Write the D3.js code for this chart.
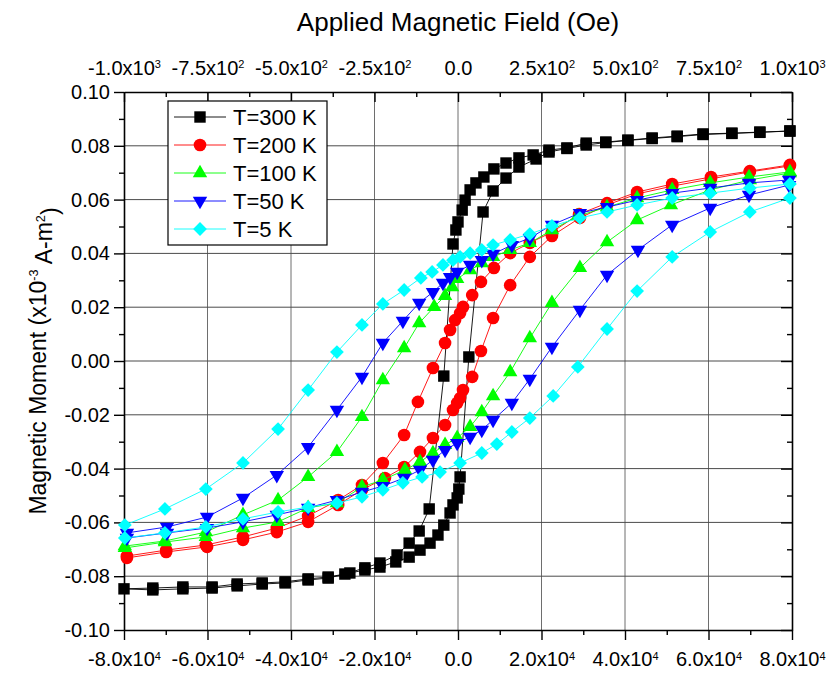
<!DOCTYPE html>
<html>
<head>
<meta charset="utf-8">
<title>Hysteresis loops</title>
<script src="https://d3js.org/d3.v7.min.js"></script>
<style>
  body { margin: 0; background: #fff; }
  svg text { font-family: "Liberation Sans", Arial, sans-serif; fill: #000; }
</style>
</head>
<body>
<svg width="828" height="673"></svg>
<script>
// [field (Oe), moment (x10^-3 A-m^2)] - field swept down from +8e4, then back up
const loop300 = [
  [79500,0.0855],[72300,0.0851],[65600,0.0847],[58700,0.0844],[52500,0.0836],[46500,0.0829],[40700,0.0821],[35400,0.0814],
  [30700,0.0810],[26100,0.0792],[21800,0.0784],[18000,0.0766],[14600,0.0755],[11500,0.0736],[8600,0.0714],[6200,0.0684],
  [4300,0.0662],[2900,0.0636],[1700,0.0598],[1000,0.0561],[0,0.0517],[-500,0.0487],[-1200,0.0435],[-3400,-0.0056],
  [-6900,-0.0550],[-9300,-0.0632],[-11700,-0.0677],[-14600,-0.0721],[-18700,-0.0751],[-22300,-0.0769],[-27100,-0.0792],
  [-31100,-0.0803],[-35900,-0.0810],[-41400,-0.0821],[-46900,-0.0825],[-52900,-0.0829],[-58900,-0.0840],[-65900,-0.0840],
  [-73100,-0.0844],[-80000,-0.0847],
  [-73100,-0.0851],[-65900,-0.0847],[-58900,-0.0844],[-52900,-0.0836],[-46900,-0.0829],[-41400,-0.0825],[-35900,-0.0814],
  [-31100,-0.0807],[-25900,-0.0788],[-22300,-0.0777],[-18700,-0.0766],[-14900,-0.0747],[-11700,-0.0729],[-9100,-0.0703],
  [-6700,-0.0677],[-4800,-0.0647],[-3400,-0.0610],[-1900,-0.0565],[-1200,-0.0535],[-200,-0.0509],[200,-0.0476],[500,-0.0431],
  [2600,0.0015],[6000,0.0554],[8400,0.0632],[11500,0.0680],[14600,0.0721],[18700,0.0751],[21800,0.0777],[26100,0.0790],
  [30700,0.0803],[35400,0.0812],[40700,0.0820],[46500,0.0827],[52500,0.0834],[58700,0.0842],[65600,0.0846],[72300,0.0850],
  [79500,0.0855]
];
const loop200 = [
  [79500,0.0729],[69900,0.0706],[60600,0.0684],[51300,0.0658],[42900,0.0628],[35700,0.0587],[29000,0.0546],[22500,0.0479],
  [17200,0.0439],[12500,0.0401],[8600,0.0346],[5500,0.0294],[3400,0.0245],[1200,0.0201],[500,0.0178],[-700,0.0152],
  [-1900,0.0115],[-3100,0.0067],[-6000,-0.0026],[-9600,-0.0152],[-12900,-0.0275],[-18000,-0.0379],[-23000,-0.0461],
  [-28700,-0.0517],[-35900,-0.0576],[-43400,-0.0621],[-51500,-0.0654],[-60400,-0.0684],[-69900,-0.0703],[-79300,-0.0725],
  [-79300,-0.0732],[-69900,-0.0710],[-60100,-0.0691],[-51500,-0.0665],[-43400,-0.0636],[-35900,-0.0598],[-28700,-0.0535],
  [-23000,-0.0479],[-17500,-0.0435],[-12900,-0.0394],[-9100,-0.0338],[-6000,-0.0286],[-3100,-0.0238],[-1200,-0.0182],
  [-200,-0.0156],[500,-0.0138],[1200,-0.0108],[3400,-0.0059],[5500,0.0037],[8400,0.0160],[12500,0.0282],[17200,0.0387],
  [22500,0.0465],[29200,0.0532],[35700,0.0580],[42900,0.0621],[51300,0.0650],[60600,0.0677],[69900,0.0703],[79500,0.0725]
];
const loop100 = [
  [79500,0.0703],[69700,0.0684],[60400,0.0662],[51300,0.0636],[42900,0.0606],[35700,0.0572],[28700,0.0539],[22500,0.0487],
  [17200,0.0439],[12500,0.0413],[8400,0.0387],[5700,0.0364],[2900,0.0338],[-200,0.0305],[-1400,0.0275],[-3100,0.0242],
  [-5700,0.0201],[-9300,0.0141],[-12900,0.0048],[-18000,-0.0071],[-23000,-0.0208],[-29000,-0.0338],[-35900,-0.0431],
  [-43100,-0.0517],[-51500,-0.0572],[-60400,-0.0636],[-70200,-0.0669],[-79800,-0.0688],
  [-79800,-0.0695],[-70200,-0.0673],[-60400,-0.0654],[-51500,-0.0621],[-43100,-0.0598],[-35900,-0.0546],[-29000,-0.0528],
  [-23000,-0.0468],[-18000,-0.0442],[-12700,-0.0405],[-9100,-0.0375],[-6000,-0.0342],[-3100,-0.0312],[-200,-0.0286],
  [2900,-0.0245],[5700,-0.0190],[8400,-0.0130],[12500,-0.0041],[17200,0.0085],[22500,0.0216],[29200,0.0346],[35700,0.0442],
  [42900,0.0524],[51000,0.0580],[60400,0.0636],[69900,0.0673],[79500,0.0699]
];
const loop50 = [
  [79300,0.0673],[69700,0.0662],[60400,0.0643],[51300,0.0624],[42900,0.0598],[35700,0.0572],[29200,0.0550],[22500,0.0506],
  [17200,0.0457],[12900,0.0431],[8400,0.0398],[5700,0.0375],[2900,0.0357],[-200,0.0331],[-1900,0.0312],[-3600,0.0290],
  [-6000,0.0256],[-9300,0.0216],[-13200,0.0149],[-18000,0.0067],[-23000,-0.0059],[-29000,-0.0182],[-35900,-0.0320],
  [-43400,-0.0424],[-51500,-0.0509],[-60100,-0.0580],[-69700,-0.0617],[-79300,-0.0639],
  [-79300,-0.0658],[-69700,-0.0639],[-60100,-0.0621],[-51500,-0.0598],[-43400,-0.0572],[-35900,-0.0546],[-29000,-0.0517],
  [-23000,-0.0487],[-18000,-0.0465],[-12900,-0.0435],[-9100,-0.0405],[-6000,-0.0368],[-3100,-0.0331],[-200,-0.0305],
  [2900,-0.0282],[5700,-0.0256],[8400,-0.0219],[12900,-0.0156],[17200,-0.0067],[22500,0.0052],[29200,0.0190],[35700,0.0320],
  [43100,0.0413],[51300,0.0506],[60400,0.0569],[69700,0.0617],[79300,0.0654]
];
const loop5 = [
  [79500,0.0658],[69900,0.0643],[60400,0.0624],[51300,0.0606],[42900,0.0580],[35700,0.0554],[29200,0.0532],[22500,0.0502],
  [17200,0.0472],[12500,0.0450],[8400,0.0431],[5700,0.0413],[2900,0.0401],[500,0.0387],[-1200,0.0375],[-3600,0.0357],
  [-6200,0.0331],[-8900,0.0309],[-12900,0.0264],[-18000,0.0212],[-23000,0.0134],[-29000,0.0033],[-35900,-0.0108],
  [-43100,-0.0253],[-51500,-0.0379],[-60400,-0.0476],[-70200,-0.0550],[-79800,-0.0610],
  [-79800,-0.0658],[-70200,-0.0639],[-60400,-0.0617],[-51500,-0.0587],[-43100,-0.0561],[-35900,-0.0543],[-29000,-0.0528],
  [-23000,-0.0505],[-18000,-0.0479],[-13200,-0.0453],[-8600,-0.0431],[-4300,-0.0413],[500,-0.0379],[5700,-0.0342],
  [9300,-0.0309],[12900,-0.0264],[17200,-0.0212],[22800,-0.0130],[28700,-0.0022],[35700,0.0119],[42900,0.0260],
  [51300,0.0387],[60400,0.0480],[69900,0.0554],[79500,0.0606]
];

const seriesNames = ["T=300 K", "T=200 K", "T=100 K", "T=50 K", "T=5 K"];
const seriesColors = ["#000000", "#ff0000", "#00ff00", "#0000ff", "#00ffff"];
const seriesShapes = ["square", "circle", "triangle", "triangleDown", "diamond"];
const bottomTicks = [-80000, -60000, -40000, -20000, 0, 20000, 40000, 60000, 80000];
const topTicks = [-1000, -750, -500, -250, 0, 250, 500, 750, 1000];
const yTicks = [-0.10, -0.08, -0.06, -0.04, -0.02, 0.00, 0.02, 0.04, 0.06, 0.08, 0.10];

const loops = [loop300, loop200, loop100, loop50, loop5];

const width = 828, height = 673;
const margin = { top: 92, right: 36, bottom: 43, left: 124 };
const innerW = width - margin.left - margin.right;
const innerH = height - margin.top - margin.bottom;

const x = d3.scaleLinear().domain([-80000, 80000]).range([0, innerW]);
const xTop = d3.scaleLinear().domain([-1000, 1000]).range([0, innerW]);
const y = d3.scaleLinear().domain([-0.1, 0.1]).range([innerH, 0]);

// minor ticks halfway between the majors
const xMinor = d3.range(-70000, 80000, 20000);
const topMinor = d3.range(-875, 1000, 250);
const yMinor = d3.range(-0.09, 0.1, 0.02);

const svg = d3.select("svg");
const g = svg.append("g").attr("transform", `translate(${margin.left},${margin.top})`);

// grid
g.append("g").selectAll("line")
  .data(bottomTicks.slice(1, -1))
  .join("line")
  .attr("x1", d => x(d)).attr("x2", d => x(d))
  .attr("y1", 0).attr("y2", innerH)
  .attr("stroke", "#6e6e6e").attr("stroke-width", 1);
g.append("g").selectAll("line")
  .data(yTicks.slice(1, -1))
  .join("line")
  .attr("x1", 0).attr("x2", innerW)
  .attr("y1", d => y(d)).attr("y2", d => y(d))
  .attr("stroke", "#4a4a4a").attr("stroke-width", 1);

function sciLabel(text, v) {
  text.text(null);
  if (v === 0) { text.text("0.0"); return; }
  const e = Math.floor(Math.log10(Math.abs(v)) + 1e-9);
  const m = v / Math.pow(10, e);
  text.append("tspan").text(m.toFixed(1) + "x10");
  text.append("tspan").attr("dy", "-0.6em").attr("font-size", "0.55em").text(e);
}

function styleAxis(sel) {
  sel.attr("font-family", null).attr("font-size", 20);
  sel.select(".domain").attr("stroke-width", 1.6);
  sel.selectAll(".tick line").attr("stroke-width", 1.4);
}

// bottom axis
const bottomAxis = g.append("g")
  .attr("transform", `translate(0,${innerH})`)
  .call(d3.axisBottom(x).tickValues(bottomTicks).tickSizeInner(10).tickSizeOuter(0).tickPadding(12))
  .call(styleAxis);
bottomAxis.selectAll(".tick text").each(function (d) { sciLabel(d3.select(this), d); });
g.append("g")
  .attr("transform", `translate(0,${innerH})`)
  .call(d3.axisBottom(x).tickValues(xMinor).tickSize(5).tickFormat(""))
  .call(s => s.select(".domain").remove())
  .selectAll("line").attr("stroke-width", 1.4);

// top axis, ticks point inward
const topAxis = g.append("g")
  .call(d3.axisTop(xTop).tickValues(topTicks).tickSizeInner(-10).tickSizeOuter(0).tickPadding(17))
  .call(styleAxis);
topAxis.selectAll(".tick text").each(function (d) { sciLabel(d3.select(this), d); });
g.append("g")
  .call(d3.axisTop(xTop).tickValues(topMinor).tickSize(-5).tickFormat(""))
  .call(s => s.select(".domain").remove())
  .selectAll("line").attr("stroke-width", 1.4);

// left axis (plain hyphen for negatives, as in the original)
g.append("g")
  .call(d3.axisLeft(y).tickValues(yTicks).tickSizeInner(10).tickSizeOuter(0).tickPadding(4)
    .tickFormat(d => d3.format(".2f")(d).replace("\u2212", "-")))
  .call(styleAxis);
g.append("g")
  .call(d3.axisLeft(y).tickValues(yMinor).tickSize(5).tickFormat(""))
  .call(s => s.select(".domain").remove())
  .selectAll("line").attr("stroke-width", 1.4);

// right axis, inward ticks, no labels
g.append("g")
  .attr("transform", `translate(${innerW},0)`)
  .call(d3.axisRight(y).tickValues(yTicks).tickSizeInner(-11).tickSizeOuter(0).tickFormat(""))
  .call(styleAxis);
g.append("g")
  .attr("transform", `translate(${innerW},0)`)
  .call(d3.axisRight(y).tickValues(yMinor).tickSize(-5).tickFormat(""))
  .call(s => s.select(".domain").remove())
  .selectAll("line").attr("stroke-width", 1.4);

// markers
function markerPath(shape) {
  if (shape === "square") return d3.symbol(d3.symbolSquare, 130)();
  if (shape === "circle") return d3.symbol(d3.symbolCircle, 125)();
  if (shape === "triangle" || shape === "triangleDown") return d3.symbol(d3.symbolTriangle, 90)();
  return d3.symbol(d3.symbolSquare, 95)();
}
function markerRotate(shape) {
  if (shape === "triangleDown") return 180;
  if (shape === "diamond") return 45;
  return 0;
}

const line = d3.line().x(d => x(d[0])).y(d => y(d[1]));

loops.forEach((data, i) => {
  const s = g.append("g");
  s.append("path")
    .datum(data)
    .attr("fill", "none")
    .attr("stroke", seriesColors[i])
    .attr("stroke-width", 0.9)
    .attr("d", line);
  s.selectAll("path.pt")
    .data(data)
    .join("path")
    .attr("class", "pt")
    .attr("d", markerPath(seriesShapes[i]))
    .attr("fill", seriesColors[i])
    .attr("transform", d => `translate(${x(d[0])},${y(d[1])}) rotate(${markerRotate(seriesShapes[i])})`);
});

// legend
const legend = g.append("g").attr("transform", "translate(44,9)");
legend.append("rect")
  .attr("width", 159).attr("height", 144)
  .attr("fill", "#fff").attr("stroke", "#000").attr("stroke-width", 1.2);
seriesNames.forEach((name, i) => {
  const row = legend.append("g").attr("transform", `translate(0,${16 + i * 28})`);
  row.append("line")
    .attr("x1", 6).attr("x2", 58)
    .attr("stroke", seriesColors[i]).attr("stroke-width", 0.9);
  row.append("path")
    .attr("d", markerPath(seriesShapes[i]))
    .attr("fill", seriesColors[i])
    .attr("transform", `translate(32,0) rotate(${markerRotate(seriesShapes[i])})`);
  row.append("text")
    .attr("x", 65).attr("y", 8)
    .attr("font-size", 22)
    .text(name);
});

// titles
svg.append("text")
  .attr("x", margin.left + innerW / 2)
  .attr("y", 31)
  .attr("text-anchor", "middle")
  .attr("font-size", 26)
  .text("Applied Magnetic Field (Oe)");

const yTitle = svg.append("text")
  .attr("transform", `translate(46,${margin.top + innerH / 2}) rotate(-90)`)
  .attr("text-anchor", "middle")
  .attr("font-size", 23);
yTitle.append("tspan").text("Magnetic Moment (x10");
yTitle.append("tspan").attr("dy", "-0.6em").attr("font-size", "0.55em").text("-3");
yTitle.append("tspan").attr("dy", "0.6em").text(" A-m");
yTitle.append("tspan").attr("dy", "-0.6em").attr("font-size", "0.55em").text("2");
yTitle.append("tspan").attr("dy", "0.6em").text(")");
</script>
</body>
</html>
